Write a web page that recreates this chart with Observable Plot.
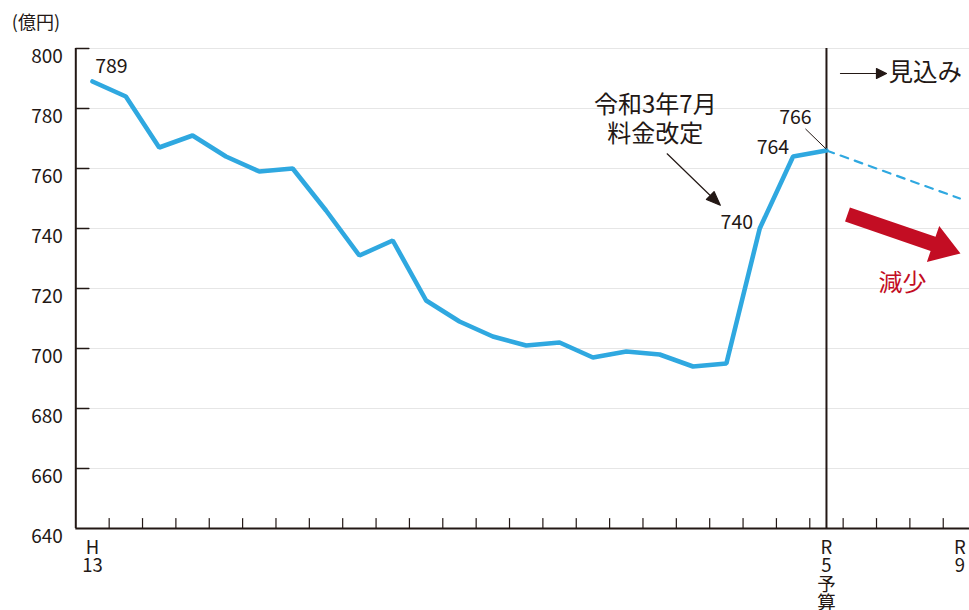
<!DOCTYPE html>
<html><head><meta charset="utf-8">
<script src="https://cdn.jsdelivr.net/npm/d3@7"></script>
<script src="https://cdn.jsdelivr.net/npm/@observablehq/plot@0.6"></script>
<style>
html,body{margin:0;padding:0;background:#fff;overflow:hidden;}
#chart svg{display:block;}
</style>
</head><body><div id="chart"></div>
<script>
// ---- data ----
const years = [2001,2002,2003,2004,2005,2006,2007,2008,2009,2010,2011,2012,2013,2014,2015,2016,2017,2018,2019,2020,2021,2022,2023];
const revenue = [789,784,767,771,764,759,760,746,731,736,716,709,704,701,702,697,699,698,694,695,740,764,766];
const forecastYears = [2023, 2027];
const forecastValues = [766, 750];
const yTicks = [640,660,680,700,720,740,760,780,800];
const xTickYears = [2001, 2023, 2027];
const xTickLabels = ["H\n13", "R\n5\n予\n算", "R\n9"];
const boundaryYears = [2001.5,2002.5,2003.5,2004.5,2005.5,2006.5,2007.5,2008.5,2009.5,2010.5,2011.5,2012.5,2013.5,2014.5,2015.5,2016.5,2017.5,2018.5,2019.5,2020.5,2021.5,2022.5,2023.5,2024.5,2025.5,2026.5];
// value callouts (text, anchor position in data space)
const calloutText = ["789", "740", "764", "766"];
const calloutX = [2001.08, 2020.8, 2021.88, 2022.07];
const calloutY = [794, 742, 767, 777];
const calloutAnchor = ["start", "end", "end", "middle"];
const noteLines = ["令和3年7月", "料金改定"];
const noteX = [2017.87, 2017.87];
const noteY = [781, 771.3];

const BLUE = "#2fa8e0", INK = "#231815", RED = "#c30d23", GRID = "#e6e6e6";
const FONT = "'Noto Sans CJK JP', 'Noto Sans', sans-serif";

const line = d3.range(years.length).map(i => ({year: years[i], value: revenue[i]}));
const forecast = forecastYears.map((y, i) => ({year: y, value: forecastValues[i]}));
const xLabels = xTickYears.map((y, i) => ({year: y, label: xTickLabels[i]}));

const tickShape = {draw(c, l) { c.moveTo(0, 0); c.lineTo(0, -l); }};
const thinArrow = (h, w) => ({draw(c, l) {
  c.moveTo(0, 0); c.lineTo(0, -(l - h));
  c.moveTo(-w, -(l - h)); c.lineTo(0, -l); c.lineTo(w, -(l - h)); c.closePath();
}});
const blockArrow = {draw(c, l) {
  const s = 7.5, hw = 19, hl = 29;
  c.moveTo(-s, 0); c.lineTo(-s, -(l - hl)); c.lineTo(-hw, -(l - hl)); c.lineTo(0, -l);
  c.lineTo(hw, -(l - hl)); c.lineTo(s, -(l - hl)); c.lineTo(s, 0); c.closePath();
}};

const calloutMarks = calloutText.map((t, i) =>
  Plot.text([t], {x: calloutX[i], y: calloutY[i], text: d => d, textAnchor: calloutAnchor[i], fontSize: 19.5, fill: INK}));

const chart = Plot.plot({
  width: 969, height: 610,
  marginLeft: 0, marginRight: 0, marginTop: 0, marginBottom: 0,
  style: {fontFamily: FONT, color: INK, background: "#fff", overflow: "hidden"},
  x: {domain: [2000.5, 2027.5], range: [75.3, 976.1], axis: null},
  y: {domain: [640, 800], range: [528, 48], axis: null},
  marks: [
    // gridlines
    Plot.ruleY(yTicks.slice(1), {x1: 2000.5, x2: 2027.5, stroke: GRID, strokeWidth: 1.2}),
    // forecast dashed line
    Plot.line(forecast, {x: "year", y: "value", stroke: BLUE, strokeWidth: 2.2, strokeDasharray: "8,7"}),
    // R5 vertical divider
    Plot.ruleX([2023], {y1: 640, y2: 800, stroke: INK, strokeWidth: 2}),
    // axes
    Plot.ruleX([2000.5], {y1: 640, y2: 800, stroke: INK, strokeWidth: 2}),
    Plot.ruleY([640], {x1: 2000.5, x2: 2027.5, stroke: INK, strokeWidth: 2}),
    Plot.vector(yTicks.slice(1), {x: 2000.5, y: d => d, length: 13, rotate: 90, anchor: "start", shape: tickShape, stroke: INK, strokeWidth: 1.5}),
    Plot.vector(boundaryYears, {x: d => d, y: 640, length: 10, rotate: 0, anchor: "start", shape: tickShape, stroke: INK, strokeWidth: 1.2}),
    Plot.text(yTicks, {x: 2000.5, y: d => d, text: d => String(d), dx: -13, dy: 8, textAnchor: "end", fontSize: 19, fill: INK}),
    Plot.text(xLabels, {x: "year", y: 640, text: "label", dy: 12, lineAnchor: "top", lineHeight: 1.0, textAnchor: "middle", fontSize: 18.5, fill: INK}),
    // main line
    Plot.line(line, {x: "year", y: "value", stroke: BLUE, strokeWidth: 4.6, strokeLinejoin: "miter"}),
    // callouts
    ...calloutMarks,
    Plot.link([{x1: 2022.37, y1: 773.2, x2: 2023, y2: 766.4}], {x1: "x1", y1: "y1", x2: "x2", y2: "y2", stroke: INK, strokeWidth: 1}),
    // revision note
    Plot.text(noteLines, {x: (d, i) => noteX[i], y: (d, i) => noteY[i], text: d => d, fontSize: 24, fill: INK, textAnchor: "middle"}),
    Plot.vector([0], {x: 2018.225, y: 764.9, length: 74, rotate: 134.1, anchor: "start", shape: thinArrow(14, 5.5), stroke: INK, fill: INK, strokeWidth: 1.2}),
    // forecast label
    Plot.vector([0], {x: 2023.42, y: 791.67, length: 46, rotate: 90, anchor: "start", shape: thinArrow(10, 5), stroke: INK, fill: INK, strokeWidth: 1.2}),
    Plot.text(["見込み"], {x: 2024.86, y: 791.7, text: d => d, textAnchor: "start", fontSize: 24.5, fill: INK}),
    // decrease arrow
    Plot.vector([0], {x: 2023.63, y: 744.67, length: 119.5, rotate: 109, anchor: "start", shape: blockArrow, fill: RED, stroke: "none"}),
    Plot.text(["減少"], {x: 2024.56, y: 721.7, text: d => d, textAnchor: "start", fontSize: 24, fill: RED}),
    // unit
    Plot.text(["(億円)"], {x: 2000.5, y: 800, text: d => d, dx: -64, dy: -25, textAnchor: "start", fontSize: 18, fill: INK})
  ]
});
document.getElementById("chart").appendChild(chart);
</script>
</body></html>
